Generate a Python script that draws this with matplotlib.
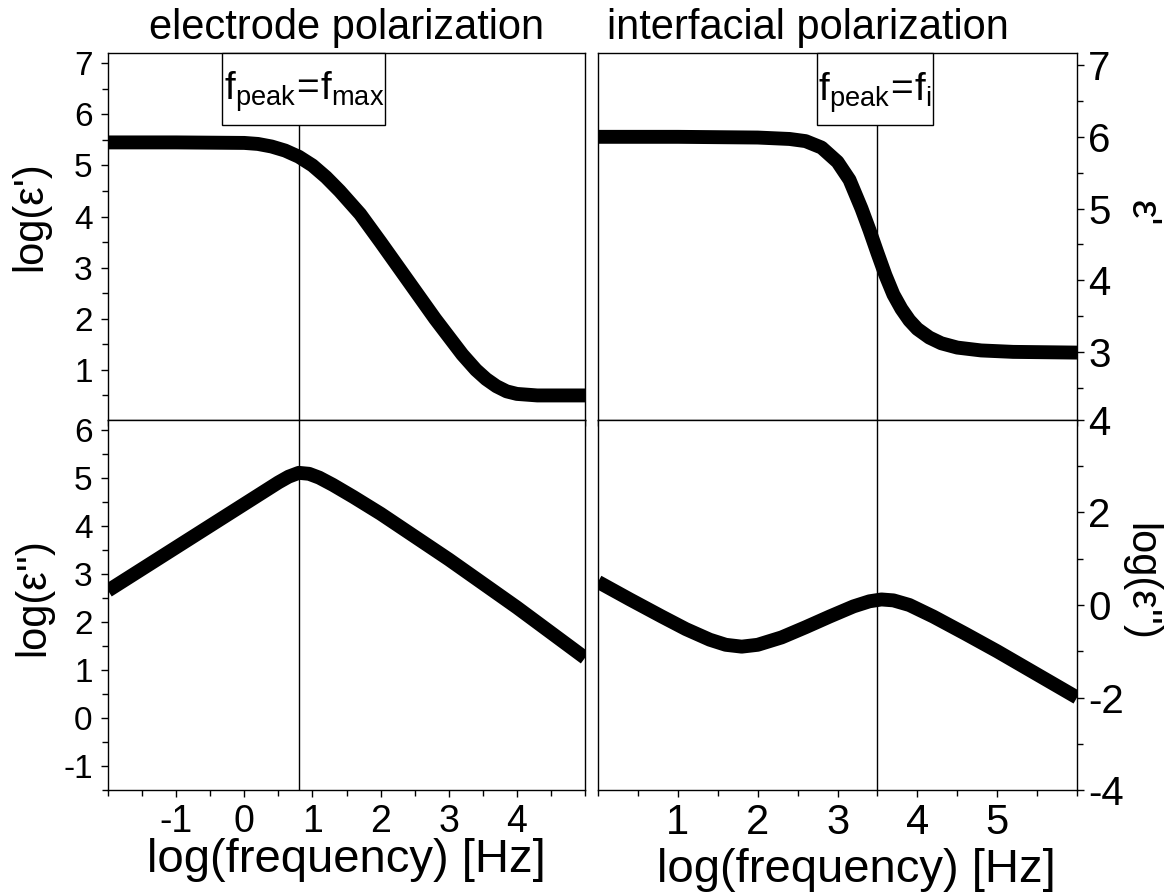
import numpy as np
import matplotlib.pyplot as plt
from matplotlib.patches import Rectangle
from matplotlib.ticker import MultipleLocator, FixedLocator

plt.rcParams["font.family"] = ["Liberation Sans", "DejaVu Sans"]
plt.rcParams["mathtext.fontset"] = "custom"
plt.rcParams["mathtext.rm"] = "Liberation Sans"
plt.rcParams["mathtext.it"] = "Liberation Sans"
plt.rcParams["axes.unicode_minus"] = False

# electrode polarization (left column)
x_elec = [-2.0, -1.0, 0.0, 0.2, 0.4, 0.6, 0.8, 1.0, 1.2, 1.4, 1.7, 2.0, 2.4, 2.8,
          3.0, 3.2, 3.4, 3.55, 3.7, 3.85, 4.0, 4.3, 5.0]
eps1_elec = [5.45, 5.45, 5.44, 5.42, 5.37, 5.29, 5.17, 5.0, 4.77, 4.5, 4.05, 3.5, 2.75, 2.0,
             1.65, 1.3, 1.0, 0.82, 0.68, 0.58, 0.53, 0.5, 0.5]

x_elec2 = [-2.0, -1.0, 0.0, 0.3, 0.5, 0.65, 0.8, 0.95, 1.1, 1.3, 1.6, 2.0, 3.0, 4.0, 5.0]
eps2_elec = [2.65, 3.55, 4.45, 4.72, 4.9, 5.02, 5.1, 5.08, 5.0, 4.85, 4.6, 4.25, 3.3, 2.3, 1.25]

# interfacial polarization (right column)
x_intf = [0.0, 1.0, 2.0, 2.4, 2.6, 2.8, 3.0, 3.15, 3.3, 3.4, 3.5, 3.6, 3.7, 3.8, 3.9,
          4.0, 4.15, 4.3, 4.5, 4.8, 5.2, 6.0]
eps1_intf = [6.0, 6.0, 5.99, 5.97, 5.94, 5.85, 5.65, 5.4, 5.0, 4.7, 4.38, 4.07, 3.8, 3.6, 3.44,
             3.32, 3.2, 3.12, 3.06, 3.02, 3.0, 2.99]

x_intf2 = [0.0, 0.4, 0.8, 1.1, 1.4, 1.6, 1.8, 2.0, 2.3, 2.6, 2.9, 3.2, 3.4, 3.55, 3.7,
           3.9, 4.2, 4.6, 5.0, 5.5, 6.0]
eps2_intf = [0.5, 0.12, -0.25, -0.52, -0.75, -0.86, -0.9, -0.86, -0.7, -0.48, -0.25, -0.03, 0.08, 0.12, 0.1,
             0.0, -0.25, -0.62, -1.0, -1.5, -2.0]

f_max = 0.8
f_i = 3.5

W, H = 1174, 893
fig = plt.figure(figsize=(W / 100, H / 100), dpi=100)
ax_tl = fig.add_axes([0.092, 0.5297, 0.4063, 0.411])
ax_bl = fig.add_axes([0.092, 0.1153, 0.4063, 0.4144])
ax_tr = fig.add_axes([0.5094, 0.5297, 0.408, 0.411])
ax_br = fig.add_axes([0.5094, 0.1153, 0.408, 0.4144])

curve = dict(color="black", lw=10, solid_capstyle="butt", solid_joinstyle="round")
ax_tl.plot(x_elec, eps1_elec, **curve)
ax_bl.plot(x_elec2, eps2_elec, **curve)
ax_tr.plot(x_intf, eps1_intf, **curve)
ax_br.plot(x_intf2, eps2_intf, **curve)

for ax in (ax_tl, ax_bl):
    ax.set_xlim(-2, 5)
    ax.xaxis.set_major_locator(FixedLocator([-1, 0, 1, 2, 3, 4]))
for ax in (ax_tr, ax_br):
    ax.set_xlim(0, 6)
    ax.xaxis.set_major_locator(FixedLocator([1, 2, 3, 4, 5]))
ax_tl.set_ylim(0.02, 7.2)
ax_bl.set_ylim(-1.5, 6.2)
ax_tr.set_ylim(2.05, 7.17)
ax_br.set_ylim(-4, 4)

for ax in (ax_tl, ax_bl, ax_tr, ax_br):
    ax.xaxis.set_minor_locator(MultipleLocator(0.5))
    ax.tick_params(which="both", direction="out", width=1, top=False)
    ax.tick_params(which="major", length=5)
    ax.tick_params(which="minor", length=4)
    for s in ax.spines.values():
        s.set_linewidth(1.0)

for ax in (ax_tl, ax_bl):
    ax.yaxis.set_major_locator(MultipleLocator(1))
    ax.yaxis.set_minor_locator(MultipleLocator(0.5))
    ax.tick_params(axis="y", labelsize=24, pad=6)
    ax.tick_params(axis="x", labelsize=27, pad=5)

ax_tr.yaxis.set_major_locator(MultipleLocator(1))
ax_tr.yaxis.set_minor_locator(MultipleLocator(0.5))
ax_br.yaxis.set_major_locator(MultipleLocator(2))
ax_br.yaxis.set_minor_locator(MultipleLocator(1))
for ax in (ax_tr, ax_br):
    ax.yaxis.tick_right()
    ax.tick_params(axis="y", which="both", left=False, right=True, labelsize=29, pad=3)
    ax.tick_params(axis="x", labelsize=30, pad=4)

ax_tl.tick_params(axis="x", labelbottom=False)
ax_tr.tick_params(axis="x", labelbottom=False)

# axis labels placed like the original figure
fig.text(30 / W, 1 - 216 / H, "log(ε')", fontsize=30, rotation=90, ha="center", va="center")
fig.text(33 / W, 1 - 597 / H, "log(ε'')", fontsize=30, rotation=90, ha="center", va="center")
fig.text(1122 / W, 1 - 213 / H, "ε'", fontsize=30, rotation=270, ha="left", va="center")
fig.text(1120 / W, 1 - 582 / H, "log(ε'')", fontsize=30, rotation=270, ha="left", va="center")
fig.text(346 / W, 1 - 860 / H, "log(frequency) [Hz]", fontsize=34, ha="center", va="center")
fig.text(856 / W, 1 - 870 / H, "log(frequency) [Hz]", fontsize=34, ha="center", va="center")

fig.text(347 / W, 1 - 28 / H, "electrode polarization", fontsize=30, ha="center", va="center")
fig.text(808 / W, 1 - 28 / H, "interfacial polarization", fontsize=30, ha="center", va="center")

# peak markers: boxed label on top, thin vertical line through both panels
for ax, x0, x1, ytop, ybot, label in (
        (ax_tl, -0.32, 2.07, 7.2, 5.79, r"$\mathregular{f_{peak}\!=\!f_{max}}$"),
        (ax_tr, 2.74, 4.19, 7.17, 6.16, r"$\mathregular{f_{peak}\!=\!f_{i}}$")):
    ax.add_patch(Rectangle((x0, ybot), x1 - x0, ytop - ybot, fc="white", ec="black",
                           lw=1, zorder=5, clip_on=False))
    ax.text((x0 + x1) / 2, (ytop + ybot) / 2 - 0.05, label, fontsize=28,
            ha="center", va="center", zorder=6)

for ax, xv in ((ax_tl, f_max), (ax_bl, f_max), (ax_tr, f_i), (ax_br, f_i)):
    ax.axvline(xv, color="black", lw=1, zorder=1)

fig.savefig("out.png", dpi=100)
